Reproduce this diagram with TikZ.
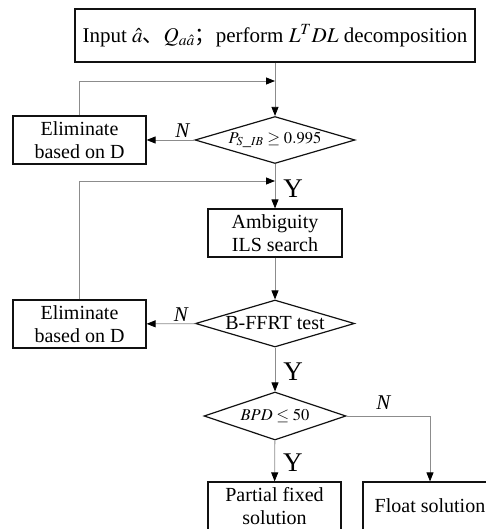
\documentclass[tikz,border=0pt]{standalone}
\usepackage{mathptmx}
\usepackage{fontspec}
\setmainfont{Liberation Serif}
\newfontfamily\cjkfont{Noto Sans CJK SC}
\usetikzlibrary{
  arrows.meta,
  positioning,
  shapes.geometric
}
\definecolor{flowGray}{HTML}{8C8C8C}
\definecolor{flowInk}{HTML}{111111}
\tikzset{
  flowBox/.style={
    draw=flowInk,
    line width=1.2pt,
    align=center,
    font=\fontsize{20}{23}\selectfont,
    inner sep=2pt,
    minimum width=133pt,
    minimum height=48pt
  },
  flowDecision/.style={
    draw=flowInk,
    line width=1.2pt,
    diamond,
    aspect=3.4,
    inner sep=0pt,
    minimum width=160pt,
    minimum height=47pt
  },
  flowArrow/.style={
    flowGray,
    line width=0.8pt,
    -{Triangle[length=9pt,width=7pt,color=black]}
  },
  yesLabel/.style={text=black, font=\fontsize{27}{27}\selectfont, inner sep=2pt},
  noLabel/.style={text=black, font=\fontsize{21}{21}\selectfont\itshape, inner sep=2pt}
}

\begin{document}
\begin{tikzpicture}[x=1pt,y=-1pt]
  \useasboundingbox (0,0) rectangle (486,529);

  \node[flowBox, minimum width=400pt, minimum height=53pt,
    font=\fontsize{21}{23}\selectfont] (input) at (275,35.5)
    {Input $\hat{a}${\cjkfont 、}$Q_{a\hat{a}}${\cjkfont ；}perform $L^{T}DL$ decomposition};
  \node[flowDecision,
    label={center:{\fontsize{16.5}{16}\selectfont$P_{S\_IB}\geq 0.995$}}]
    (success) at (275,140) {};
  \node[flowBox] (elimA) at (79.5,140) {Eliminate\\based on D};
  \node[flowBox, minimum width=134pt] (search) at (275,233)
    {Ambiguity\\ILS search};
  \node[flowDecision, minimum width=159pt,
    label={center:{\fontsize{20}{20}\selectfont B-FFRT test}}]
    (ffrt) at (275,323.5) {};
  \node[flowBox] (elimB) at (79.5,324) {Eliminate\\based on D};
  \node[flowDecision, minimum width=142pt, minimum height=48pt,
    label={center:{\fontsize{16.5}{16}\selectfont$BPD\leq 50$}}]
    (bpd) at (275,416) {};
  \node[flowBox] (partial) at (274.5,506) {Partial fixed\\solution};
  \node[flowBox, minimum width=134pt] (float) at (430,506) {Float solution};

  \coordinate (backA) at (275,81);
  \coordinate (backB) at (275,181);

  \draw[flowArrow] (input) -- (success);
  \draw[flowArrow] (elimA.north) |- (backA);
  \draw[flowArrow] (success) -- node[noLabel, above, pos=0.25] {N} (elimA);
  \draw[flowArrow] (success) -- node[yesLabel, right=6pt, pos=0.55] {Y} (search);
  \draw[flowArrow] (elimB.north) |- (backB);
  \draw[flowArrow] (search) -- (ffrt);
  \draw[flowArrow] (ffrt) -- node[noLabel, above, pos=0.3] {N} (elimB);
  \draw[flowArrow] (ffrt) -- node[yesLabel, right=6pt, pos=0.55] {Y} (bpd);
  \draw[flowArrow] (bpd) -| node[noLabel, above=4pt, pos=0.22] {N} (float);
  \draw[flowArrow] (bpd) -- node[yesLabel, right=6pt, pos=0.55] {Y} (partial);
\end{tikzpicture}
\end{document}
